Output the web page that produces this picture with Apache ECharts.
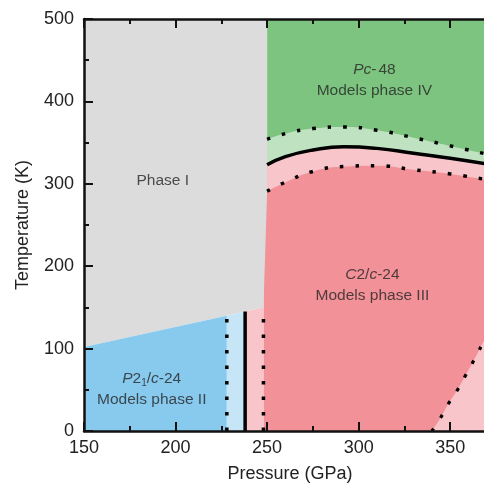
<!DOCTYPE html>
<html>
<head>
<meta charset="utf-8">
<script src="https://cdn.jsdelivr.net/npm/echarts@6/dist/echarts.min.js"></script>
<style>
  html, body { margin: 0; padding: 0; background: #fff; }
  #main { width: 484px; height: 483px; }
</style>
</head>
<body>
<div id="main"></div>
<script>
// 数据
var pressureRange = [150, 375];
var tempRange = [0, 500];

// 250 GPa 以上的三条相界
var curvePressure = [250, 260, 275, 292, 310, 330, 350, 370];
var upperDotted   = [354, 361, 367, 369, 365, 356, 346, 336];
var solidBoundary = [323, 333, 341, 345, 343, 337, 331, 324];
var lowerDotted   = [291, 302, 315, 321, 322, 317, 312, 305];

// Phase I 的下边界
var phaseIPressure = [150, 228, 238, 248, 250, 250];
var phaseITemp     = [102, 140, 145, 150, 290, 500];

// 竖直相界：点线、实线、点线
var verticalPressure = [228, 238, 248];
var verticalTop      = [138, 145, 138];

// 右下角点线
var cornerPressure = [340, 345, 349, 354, 358, 362, 366, 370];
var cornerTemp     = [0, 17, 33, 50, 66, 82, 99, 115];

var colors = {
    gray: '#dcdcdc',
    green: '#7cc47f',
    lightGreen: '#bfe2c0',
    pink: '#f8c6ca',
    red: '#f39198',
    blue: '#88c9ee',
    lightBlue: '#c6e5f7'
};

function zip(xs, ys) {
    return xs.map(function (x, i) { return [x, ys[i]]; });
}

var phaseIEdge = zip(phaseIPressure, phaseITemp);

function area(data, color, origin, smooth) {
    return {
        type: 'line',
        data: data,
        smooth: smooth || false,
        symbol: 'none',
        silent: true,
        lineStyle: { width: 0, opacity: 0 },
        areaStyle: { color: color, opacity: 1, origin: origin }
    };
}

function line(data, width, dash, smooth) {
    return {
        type: 'line',
        data: data,
        smooth: smooth || false,
        symbol: 'none',
        silent: true,
        z: 5,
        lineStyle: { color: '#000', width: width, type: dash, cap: 'butt' }
    };
}

var font = 'Liberation Sans, Arial, sans-serif';
var dots = [3.5, 12];

var series = [
    // 背景红色
    area([[248, 500], [370, 500]], colors.red, 'start'),
    // 从各曲线向上填充
    area(zip(curvePressure, lowerDotted), colors.pink, 'end', true),
    area(zip(curvePressure, solidBoundary), colors.lightGreen, 'end', true),
    area(zip(curvePressure, upperDotted), colors.green, 'end', true),
    // Phase I
    area(phaseIEdge, colors.gray, 'end'),
    // Phase I 下方的条带
    area(phaseIEdge.slice(0, 2), colors.blue, 'start'),
    area(phaseIEdge.slice(1, 3), colors.lightBlue, 'start'),
    area(phaseIEdge.slice(2, 4), colors.pink, 'start'),
    // 右下角
    area(zip(cornerPressure, cornerTemp), colors.pink, 'start', true),

    line(zip(curvePressure, upperDotted), 3.5, dots, true),
    line(zip(curvePressure, solidBoundary), 3.5, 'solid', true),
    line(zip(curvePressure, lowerDotted), 3.5, dots, true),
    line(zip(cornerPressure, cornerTemp), 3.2, [3.2, 12.5], true)
];

verticalPressure.forEach(function (p, i) {
    series.push(line([[p, 0], [p, verticalTop[i]]], 3.5, i === 1 ? 'solid' : dots));
});

// 文字标注
var textColor = '#262626';
var rich = {
    it: { fontStyle: 'italic', fontSize: 15.5, color: textColor, fontFamily: font },
    sub: { fontSize: 10, color: textColor, fontFamily: font, padding: [9, 0, 0, 0] },
    d: { fontSize: 15.5, color: textColor, fontFamily: font, padding: [0, 2, 0, 0] },
    n: { fontSize: 15.5, color: textColor, fontFamily: font }
};
series.push({
    type: 'scatter',
    symbolSize: 0,
    silent: true,
    z: 6,
    label: {
        show: true,
        position: 'inside',
        align: 'center',
        verticalAlign: 'middle',
        lineHeight: 21,
        fontSize: 15.5,
        fontFamily: font,
        color: textColor,
        rich: rich
    },
    data: [
        { value: [193, 304], label: { formatter: '{n|Phase I}' } },
        { value: [308.6, 426], label: { formatter: '{it|Pc}{d|-}{n|48}\n{n|Models phase IV}' } },
        { value: [307.5, 177], label: { formatter: '{it|C}{n|2/}{it|c}{n|-24}\n{n|Models phase III}' } },
        { value: [187, 51], label: { formatter: '{it|P}{n|2}{sub|1}{n|/}{it|c}{n|-24}\n{n|Models phase II}' } }
    ]
});

var axisLine = { show: true, onZero: false, lineStyle: { color: '#111', width: 2.5 } };
var axisTick = { show: true, inside: true, length: 9, lineStyle: { color: '#111', width: 2 } };
var minorTick = { show: true, splitNumber: 2, length: 5, lineStyle: { color: '#111', width: 2 } };

var chart = echarts.init(document.getElementById('main'));
chart.setOption({
    animation: false,
    backgroundColor: '#fff',
    grid: { left: 84, top: 19, right: -12, bottom: 52, containLabel: false, outerBoundsMode: 'none' },
    xAxis: [
        {
            type: 'value',
            position: 'bottom',
            z: 10,
            min: pressureRange[0],
            max: pressureRange[1],
            interval: 50,
            axisLine: axisLine,
            axisTick: axisTick,
            minorTick: minorTick,
            splitLine: { show: false },
            axisLabel: { fontSize: 18, color: '#222', fontFamily: font, margin: 8, showMaxLabel: false },
            name: 'Pressure (GPa)',
            nameLocation: 'middle',
            nameGap: 34,
            nameTextStyle: { fontSize: 18, color: '#222', fontFamily: font }
        },
        {
            type: 'value',
            position: 'top',
            z: 10,
            min: pressureRange[0],
            max: pressureRange[1],
            interval: 50,
            axisLine: axisLine,
            axisTick: axisTick,
            minorTick: minorTick,
            splitLine: { show: false },
            axisLabel: { show: false }
        }
    ],
    yAxis: {
        type: 'value',
        z: 10,
        min: tempRange[0],
        max: tempRange[1],
        interval: 100,
        axisLine: axisLine,
        axisTick: axisTick,
        minorTick: minorTick,
        splitLine: { show: false },
        axisLabel: { fontSize: 18, color: '#222', fontFamily: font, margin: 10 },
        name: 'Temperature (K)',
        nameLocation: 'middle',
        nameGap: 52,
        nameTextStyle: { fontSize: 18, color: '#222', fontFamily: font }
    },
    series: series
});
</script>
</body>
</html>
